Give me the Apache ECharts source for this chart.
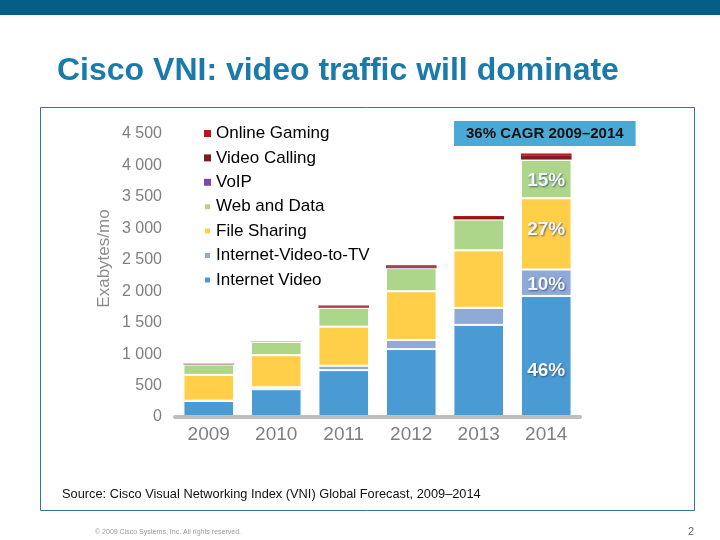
<!DOCTYPE html>
<html>
<head>
<meta charset="utf-8">
<title>Cisco VNI: video traffic will dominate</title>
<script src="https://cdn.jsdelivr.net/npm/echarts@6/dist/echarts.min.js"></script>
<style>
  html, body { margin: 0; padding: 0; background: #ffffff; }
  #chart { width: 720px; height: 540px; }
</style>
</head>
<body>
<div id="chart"></div>
<script>
// values (exabytes per month)
const years = ["2009", "2010", "2011", "2012", "2013", "2014"];
const internetVideo = [255, 442, 745, 1080, 1465, 1925];
const internetVideoToTV = [5, 30, 70, 144, 270, 420];
const fileSharing = [410, 511, 622, 776, 915, 1133];
const webAndData = [165, 212, 298, 367, 490, 611];
const voip = [3, 2, 5, 6, 8, 10];
const videoCalling = [6, 2, 20, 24, 32, 62];
const onlineGaming = [4, 2, 12, 14, 18, 30];

// share labels on the 2014 bar
const share2014 = { internetVideo: "46%", internetVideoToTV: "10%", fileSharing: "27%", webAndData: "15%" };

const yTickValues = [0, 500, 1000, 1500, 2000, 2500, 3000, 3500, 4000, 4500];
const yTickLabels = ["0", "500", "1 000", "1 500", "2 000", "2 500", "3 000", "3 500", "4 000", "4 500"];

const legendOrder = ["Online Gaming", "Video Calling", "VoIP", "Web and Data", "File Sharing", "Internet-Video-to-TV", "Internet Video"];

const chart = echarts.init(document.getElementById("chart"));

// put a share label on the last (2014) bar only
function withShare(values, text, offsetY) {
  return values.map((v, i) => {
    if (i !== values.length - 1 || !text) return v;
    return {
      value: v,
      label: {
        show: true,
        position: "inside",
        formatter: text,
        offset: [0, offsetY],
        color: "#F4F6F8",
        fontSize: 19,
        fontWeight: "bold",
        fontFamily: "Liberation Sans",
        textShadowColor: "rgba(40,60,90,0.7)",
        textShadowBlur: 2,
        textShadowOffsetX: 1,
        textShadowOffsetY: 1,
      },
    };
  });
}

function barSeries(name, data, color, bordered) {
  return {
    name: name,
    type: "bar",
    stack: "traffic",
    barCategoryGap: "25%",
    data: data,
    itemStyle: {
      color: color,
      borderColor: "#ffffff",
      borderWidth: bordered ? 1 : 0,
    },
    emphasis: { disabled: true },
  };
}

const options = {
  animation: false,
  textStyle: { fontFamily: "Liberation Sans" },
  title: [
    {
      text: "Cisco VNI: video traffic will dominate",
      left: 57,
      top: 55,
      padding: 0,
      textStyle: { color: "#1A7BAA", fontSize: 32, fontWeight: "bold", fontFamily: "Liberation Sans" },
    },
    {
      text: "36% CAGR 2009\u20132014",
      left: 454,
      top: 121,
      backgroundColor: "#4BAAD5",
      padding: [5, 12, 5, 12],
      textStyle: { color: "#111111", fontSize: 15, fontWeight: "bold", lineHeight: 15, fontFamily: "Liberation Sans" },
    },
    {
      text: "Source: Cisco Visual Networking Index (VNI) Global Forecast, 2009\u20132014",
      left: 62,
      top: 488,
      padding: 0,
      textStyle: { color: "#111111", fontSize: 12.8, fontWeight: "normal", fontFamily: "Liberation Sans" },
    },
    {
      text: "\u00a9 2009 Cisco Systems, Inc. All rights reserved.",
      left: 95,
      top: 529,
      padding: 0,
      textStyle: { color: "#9A9A9A", fontSize: 7, fontWeight: "normal", fontFamily: "Liberation Sans" },
    },
    {
      text: "2",
      left: 688,
      top: 526,
      padding: 0,
      textStyle: { color: "#666666", fontSize: 11, fontWeight: "normal", fontFamily: "Liberation Sans" },
    },
  ],
  graphic: [
    { type: "rect", shape: { x: 0, y: 0, width: 720, height: 15 }, style: { fill: "#035F88" }, silent: true },
    {
      type: "rect",
      shape: { x: 40.5, y: 107.5, width: 654, height: 403 },
      style: { fill: "none", stroke: "#2C7896", lineWidth: 1 },
      silent: true,
    },
  ],
  legend: {
    data: legendOrder,
    orient: "vertical",
    left: 203,
    top: 125,
    itemWidth: 7,
    itemHeight: 7,
    itemGap: 7.4,
    icon: "rect",
    padding: 0,
    selectedMode: false,
    textStyle: { color: "#000000", fontSize: 17, lineHeight: 17, fontFamily: "Liberation Sans" },
  },
  grid: { left: 175, right: 140, top: 134, bottom: 123 },
  xAxis: {
    type: "category",
    data: years,
    z: 3,
    axisLine: { lineStyle: { color: "#BFBFBF", width: 4 } },
    axisTick: { show: false },
    axisLabel: { color: "#7F7F7F", fontSize: 19, margin: 8, fontFamily: "Liberation Sans" },
  },
  yAxis: {
    type: "value",
    min: 0,
    max: 4500,
    interval: 500,
    name: "Exabytes/mo",
    nameLocation: "middle",
    nameGap: 62,
    nameMoveOverlap: false,
    nameTextStyle: { color: "#8C8C8C", fontSize: 17, fontFamily: "Liberation Sans", padding: [0, 0, 0, 34] },
    axisLine: { show: false },
    axisTick: { show: false },
    splitLine: { show: false },
    axisLabel: {
      color: "#7F7F7F",
      fontSize: 16,
      margin: 13,
      fontFamily: "Liberation Sans",
      formatter: (v) => yTickLabels[yTickValues.indexOf(v)],
    },
  },
  series: [
    barSeries("Internet Video", withShare(internetVideo, share2014.internetVideo, 14), "#4A9AD4", true),
    barSeries("Internet-Video-to-TV", withShare(internetVideoToTV, share2014.internetVideoToTV, 2), "#8FA9D8", true),
    barSeries("File Sharing", withShare(fileSharing, share2014.fileSharing, -4), "#FFCF4A", true),
    barSeries("Web and Data", withShare(webAndData, share2014.webAndData, 2), "#ADD68A", true),
    barSeries("VoIP", voip, "#7B4AA3", false),
    barSeries("Video Calling", videoCalling, "#7E1D1F", false),
    barSeries("Online Gaming", onlineGaming, "#C0131B", false),
  ],
};

chart.setOption(options);

window.addEventListener("resize", () => chart.resize());
</script>
</body>
</html>
